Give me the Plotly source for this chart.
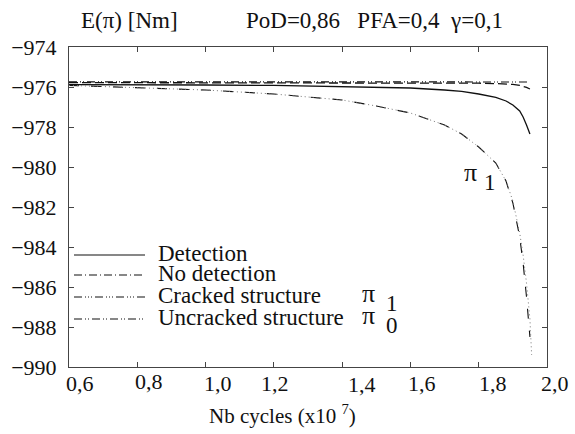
import plotly.graph_objects as go

# ---------------- data ----------------
x_vals = [0.6, 0.8, 1.0, 1.2, 1.4, 1.5, 1.6, 1.7, 1.75, 1.8, 1.85, 1.88, 1.9, 1.92, 1.93, 1.94, 1.95]
detection = [-975.88, -975.88, -975.9, -975.92, -975.97, -976.0, -976.05, -976.15, -976.22,
             -976.35, -976.52, -976.7, -976.9, -977.2, -977.5, -977.9, -978.35]
no_detection = [-975.78, -975.78, -975.78, -975.78, -975.78, -975.78, -975.79, -975.8, -975.8,
                -975.81, -975.83, -975.85, -975.87, -975.92, -975.96, -976.02, -976.1]
uncracked = [-975.74, -975.74, -975.74, -975.74, -975.74, -975.74, -975.74, -975.74, -975.74,
             -975.74, -975.74, -975.74, -975.74, -975.74, -975.74, -975.74, -975.75]
cracked = [-975.92, -976.02, -976.15, -976.35, -976.65, -976.95, -977.3, -977.9, -978.35,
           -979.0, -979.8, -980.7, -981.8, -983.5, -984.8, -986.5, -988.5]
x_dot = [0.6, 0.8, 1.0, 1.2, 1.4, 1.5, 1.6, 1.7, 1.75, 1.8, 1.85, 1.88, 1.9, 1.92, 1.93, 1.94, 1.95, 1.955]
cracked_dot = [-975.92, -976.02, -976.15, -976.35, -976.65, -976.95, -977.3, -977.9, -978.35,
               -979.0, -979.8, -980.7, -981.7, -983.3, -984.4, -985.8, -987.6, -989.4]

x_ticks = [0.6, 0.8, 1.0, 1.2, 1.4, 1.6, 1.8, 2.0]
x_tick_labels = ["0,6", "0,8", "1,0", "1,2", "1,4", "1,6", "1,8", "2,0"]
legend_labels = ["Detection", "No detection", "Cracked structure", "Uncracked structure"]

# ---------------- styles ----------------
FONT = "Liberation Serif"
BLACK = "#111111"
label_xshift = [11, 12, 12, 1, 20, 12, 14, 8]
label_yshift = [0, 2, 0, 0, -1, 0, 0, 0]
dash_det = "solid"
dash_nodet = "8px,3px,1px,3px"
dash_crack = "8px,3px,1px,2px,1px,2px,1px,3px"
dash_uncrack = "8px,3px,1px,2px,1px,3px"

fig = go.Figure()
fig.add_trace(go.Scatter(x=x_vals, y=uncracked, mode="lines",
                         line=dict(color=BLACK, width=1.2, dash=dash_uncrack), name=legend_labels[3]))
fig.add_trace(go.Scatter(x=x_vals, y=no_detection, mode="lines",
                         line=dict(color=BLACK, width=1.3, dash="9px,4px"), name=legend_labels[1]))
fig.add_trace(go.Scatter(x=x_vals, y=detection, mode="lines",
                         line=dict(color=BLACK, width=1.3, dash=dash_det), name=legend_labels[0]))
fig.add_trace(go.Scatter(x=x_vals, y=cracked, mode="lines",
                         line=dict(color=BLACK, width=1.1, dash="10px,12px"), name=legend_labels[2]))
fig.add_trace(go.Scatter(x=x_dot, y=cracked_dot, mode="lines",
                         line=dict(color="#777777", width=1.0, dash="1px,3px"), showlegend=False))

L, R, T, B = 69, 28, 47, 67
W, H = 575, 434
pw, ph = W - L - R, H - T - B

def px_x(p):
    return (p - L) / pw

def px_y(p):
    return (H - B - p) / ph

annotations = []
# x tick labels
for xv, lab, dx, dy in zip(x_ticks, x_tick_labels, label_xshift, label_yshift):
    annotations.append(dict(x=xv, y=0, xref="x", yref="paper", text=lab, showarrow=False,
                            xanchor="center", yanchor="middle", xshift=dx, yshift=-16 + dy,
                            font=dict(family=FONT, size=22, color=BLACK)))
# titles
annotations.append(dict(x=px_x(79), y=px_y(21), xref="paper", yref="paper", text="E(π) [Nm]",
                        showarrow=False, xanchor="left", yanchor="middle",
                        font=dict(family=FONT, size=23, color=BLACK)))
annotations.append(dict(x=px_x(244), y=px_y(21), xref="paper", yref="paper",
                        text="PoD=0,86&nbsp;&nbsp;&nbsp;PFA=0,4&nbsp;&nbsp;γ=0,1",
                        showarrow=False, xanchor="left", yanchor="middle",
                        font=dict(family=FONT, size=23, color=BLACK)))
annotations.append(dict(x=px_x(282), y=px_y(414), xref="paper", yref="paper",
                        text="Nb cycles (x10 <sup>7</sup>)",
                        showarrow=False, xanchor="center", yanchor="middle",
                        font=dict(family=FONT, size=21, color=BLACK)))
# pi label near curve
annotations.append(dict(x=px_x(470), y=px_y(172), xref="paper", yref="paper", text="π",
                        showarrow=False, xanchor="center", yanchor="middle",
                        font=dict(family=FONT, size=26, color=BLACK)))
annotations.append(dict(x=px_x(490), y=px_y(182), xref="paper", yref="paper", text="1",
                        showarrow=False, xanchor="center", yanchor="middle",
                        font=dict(family=FONT, size=23, color=BLACK)))

# manual legend
leg_y = [253, 273, 295, 317]
leg_dash = [dash_det, dash_nodet, dash_crack, dash_uncrack]
shapes = []
for lab, yy, dsh in zip(legend_labels, leg_y, leg_dash):
    shapes.append(dict(type="line", xref="paper", yref="paper", x0=px_x(74), x1=px_x(145),
                       y0=px_y(yy + 2), y1=px_y(yy + 2), line=dict(color=BLACK, width=1.2, dash=dsh)))
    annotations.append(dict(x=px_x(156), y=px_y(yy), xref="paper", yref="paper", text=lab,
                            showarrow=False, xanchor="left", yanchor="middle",
                            font=dict(family=FONT, size=23, color=BLACK)))
for sub, yy in zip(["1", "0"], [leg_y[2], leg_y[3]]):
    annotations.append(dict(x=px_x(368), y=px_y(yy - 2), xref="paper", yref="paper", text="π",
                            showarrow=False, xanchor="center", yanchor="middle",
                            font=dict(family=FONT, size=26, color=BLACK)))
    annotations.append(dict(x=px_x(392), y=px_y(yy + 8), xref="paper", yref="paper", text=sub,
                            showarrow=False, xanchor="center", yanchor="middle",
                            font=dict(family=FONT, size=23, color=BLACK)))

axis_common = dict(showline=True, linecolor="#444444", linewidth=1, mirror="ticks", ticks="inside",
                   ticklen=5, tickcolor="#444444", showgrid=False, zeroline=False)

fig.update_layout(
    width=W, height=H,
    margin=dict(l=L, r=R, t=T, b=B, pad=0),
    paper_bgcolor="white", plot_bgcolor="white",
    showlegend=False,
    font=dict(family=FONT, color=BLACK),
    xaxis=dict(range=[0.6, 2.0], tickvals=x_ticks, showticklabels=False, **axis_common),
    yaxis=dict(range=[-990, -974], dtick=2, tick0=-990, showticklabels=True,
               tickfont=dict(family=FONT, size=22, color=BLACK), ticklabelstandoff=7,
               **axis_common),
    annotations=annotations,
    shapes=shapes,
)

fig.write_html("out.html", config={"displayModeBar": False},
               post_script="document.body.style.margin='0';document.body.style.overflow='hidden';")
